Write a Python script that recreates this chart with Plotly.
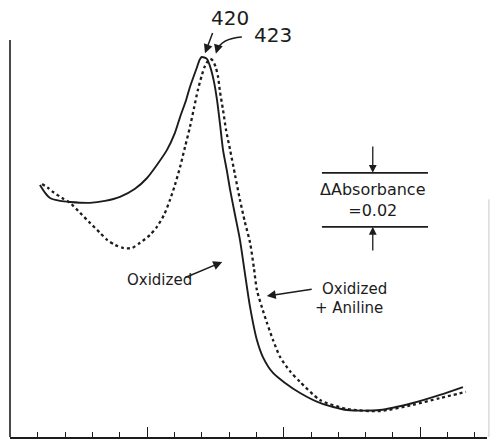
import plotly.graph_objects as go

# Wavelength (nm) and absorbance readings for the two spectra
wl_oxidized = [360.8, 362.7, 364.5, 368.2, 371.8, 379.1, 384.6, 390.1, 395.6, 400.0,
               403.6, 407.3, 410.2, 412.1, 414.3, 415.7, 418.3, 419.2, 420.0, 421.9,
               423.0, 424.5, 425.6, 426.7, 427.8, 429.3, 430.4, 432.2, 434.0, 435.8,
               437.7, 440.2, 442.4, 446.1, 450.5, 456.0, 463.3, 473.2, 485.2, 497.3,
               507.2, 515.6]
abs_oxidized = [0.0933, 0.0904, 0.0885, 0.0874, 0.0870, 0.0867, 0.0874, 0.0889, 0.0919, 0.0959,
                0.1007, 0.1063, 0.1126, 0.1185, 0.1248, 0.1296, 0.1370, 0.1396, 0.1407, 0.1400,
                0.1374, 0.1315, 0.1248, 0.1159, 0.1063, 0.0981, 0.0915, 0.0822, 0.0730, 0.0607,
                0.0481, 0.0359, 0.0296, 0.0237, 0.0200, 0.0163, 0.0126, 0.0100, 0.0100, 0.0126,
                0.0156, 0.0185]

wl_aniline = [361.6, 363.8, 365.6, 368.9, 371.8, 375.5, 379.1, 382.8, 385.4, 388.3,
              391.2, 394.5, 397.4, 401.1, 403.6, 406.2, 408.4, 410.2, 412.1, 413.9,
              415.7, 417.2, 418.6, 420.1, 421.2, 423.0, 424.1, 425.2, 426.0, 426.7,
              427.8, 428.9, 430.4, 432.2, 434.0, 435.8, 437.7, 439.1, 440.2, 442.1,
              443.9, 446.1, 448.7, 452.3, 456.0, 463.3, 473.2, 485.2, 497.3, 507.2,
              516.7]
abs_aniline = [0.0937, 0.0922, 0.0907, 0.0885, 0.0867, 0.0830, 0.0793, 0.0756, 0.0730, 0.0711,
               0.0700, 0.0700, 0.0719, 0.0748, 0.0778, 0.0822, 0.0878, 0.0933, 0.1000, 0.1074,
               0.1148, 0.1219, 0.1285, 0.1341, 0.1374, 0.1400, 0.1393, 0.1367, 0.1333, 0.1278,
               0.1211, 0.1137, 0.1063, 0.0970, 0.0878, 0.0796, 0.0719, 0.0626, 0.0544, 0.0478,
               0.0422, 0.0359, 0.0296, 0.0244, 0.0204, 0.0137, 0.0104, 0.0096, 0.0119, 0.0144,
               0.0167]

peak_labels = ["420", "423"]
major_ticks = [400, 450, 500]
scale_delta = 0.02
scale_text = "ΔAbsorbance<br>=0.02"

INK = "#1c1c1c"
FONT = "DejaVu Sans"
X0, X1 = 349.85, 524.4
Y_TOP_AXIS = 0.147      # top end of the drawn ordinate line
Y_MAX = 0.1618          # extra headroom for the peak labels

fig = go.Figure()
fig.add_trace(go.Scatter(x=wl_oxidized, y=abs_oxidized, mode="lines",
                         line=dict(color=INK, width=1.9, shape="spline", smoothing=0.7),
                         showlegend=False))
fig.add_trace(go.Scatter(x=wl_aniline, y=abs_aniline, mode="lines",
                         line=dict(color=INK, width=2.3, dash="3px,3px", shape="spline", smoothing=0.7),
                         showlegend=False))


def pointer(tip, tail, width=1.5):
    return dict(x=tip[0], y=tip[1], ax=tail[0], ay=tail[1], xref="x", yref="y",
                axref="x", ayref="y", text="", showarrow=True,
                arrowhead=2, arrowsize=1.2, arrowwidth=width, arrowcolor=INK)


def label(x, y, text, size=15, align="center"):
    return dict(x=x, y=y, xref="x", yref="y", text=text, showarrow=False, align=align,
                font=dict(family=FONT, size=size, color=INK))


annotations = []
shapes = []

# Peak labels with pointers
annotations.append(pointer((421.2, 0.1421), (424.2, 0.1501)))
annotations.append(label(430.4, 0.1550, peak_labels[0], size=20))
shapes.append(dict(type="path", xref="x", yref="y",
                   path="M 434.7,0.1481 Q 427.0,0.1475 425.7,0.1432",
                   line=dict(color=INK, width=1.5)))
annotations.append(pointer((425.2, 0.1419), (425.8, 0.1440)))
annotations.append(label(446.1, 0.1487, peak_labels[1], size=20))

# Curve labels
annotations.append(pointer((427.5, 0.0648), (413.7, 0.0589)))
annotations.append(label(404.4, 0.0581, "Oxidized"))
annotations.append(pointer((443.8, 0.0522), (460.8, 0.0548)))
annotations.append(label(475.9, 0.0548, "Oxidized"))
annotations.append(label(474.0, 0.0478, "+ Aniline"))

# Absorbance scale bar
bar_x0, bar_x1, bar_xc = 464.0, 502.8, 482.6
bar_top = 0.0978
bar_bot = bar_top - scale_delta
for yb in (bar_top, bar_bot):
    shapes.append(dict(type="line", xref="x", yref="y", x0=bar_x0, x1=bar_x1, y0=yb, y1=yb,
                       line=dict(color=INK, width=1.6)))
annotations.append(pointer((bar_xc, bar_top), (bar_xc, bar_top + 0.0103), width=1.3))
annotations.append(pointer((bar_xc, bar_bot), (bar_xc, bar_bot - 0.0093), width=1.3))
annotations.append(label(bar_xc, (bar_top + bar_bot) / 2, scale_text, size=16))

# Ordinate line (stops below the labels) and faint right frame edge
shapes.append(dict(type="line", xref="paper", yref="y", x0=0, x1=0, y0=0, y1=Y_TOP_AXIS,
                   line=dict(color=INK, width=1.6)))
shapes.append(dict(type="line", xref="paper", yref="y", x0=1.004, x1=1.004, y0=0, y1=0.088,
                   line=dict(color="#c8c8c8", width=1)))

fig.update_layout(
    width=490, height=441,
    margin=dict(l=10, r=3, t=0, b=4),
    paper_bgcolor="white", plot_bgcolor="white",
    annotations=annotations, shapes=shapes,
    xaxis=dict(range=[X0, X1], showgrid=False, zeroline=False,
               showline=True, linecolor=INK, linewidth=1.6,
               ticks="inside", tickvals=major_ticks, ticklen=10, tickwidth=1.4, tickcolor=INK,
               showticklabels=False,
               minor=dict(ticks="inside", tick0=350, dtick=10, ticklen=5, tickwidth=1.2,
                          tickcolor=INK, showgrid=False)),
    yaxis=dict(range=[0, Y_MAX], showgrid=False, zeroline=False,
               showline=False, ticks="", showticklabels=False),
)

fig.write_html("out.html")
